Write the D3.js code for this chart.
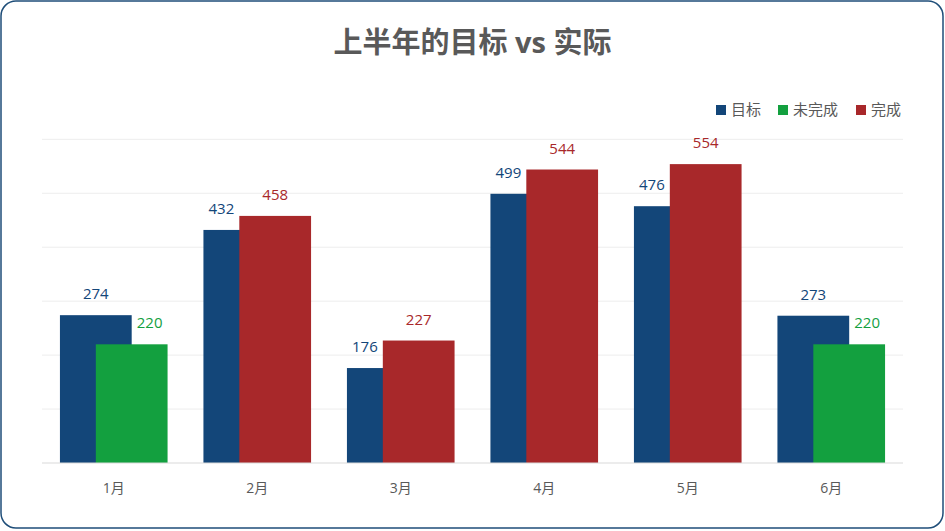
<!DOCTYPE html>
<html lang='zh'>
	<head>
		<meta charset='utf-8'>
		<title>上半年的目标 vs 实际</title>
		<script src="https://d3js.org/d3.v7.min.js"></script>
		<style type="text/css">
			body { margin: 0; background: #fff; }
			text { font-family: "Open Sans", "Noto Sans CJK SC", sans-serif; }
		</style>
	</head>
	<body>
		<script type='text/javascript'>
			//Data
			var months = ['1月', '2月', '3月', '4月', '5月', '6月'];
			var target = [274, 432, 176, 499, 476, 273];
			var notDone = [220, null, null, null, null, 220];
			var done = [null, 458, 227, 544, 554, null];
			var yTicks = [0, 100, 200, 300, 400, 500, 600];
			var legendNames = ['目标', '未完成', '完成'];
			var colors = ['#134679', '#13A03F', '#A8282A'];

			//Width and height
			var w = 945;
			var h = 531;
			var plotL = 42, plotR = 903, plotT = 139.3, plotB = 463;

			var svg = d3.select('body')
						.append('svg')
						.attr('width', w)
						.attr('height', h);

			//Frame
			svg.append('rect')
			   .attr('x', 1).attr('y', 1)
			   .attr('width', w - 3).attr('height', h - 4)
			   .attr('rx', 15).attr('ry', 15)
			   .attr('fill', '#fff')
			   .attr('stroke', '#1F4E79')
			   .attr('stroke-width', 1.5);

			//Title
			svg.append('text')
			   .attr('x', w / 2).attr('y', 53)
			   .attr('text-anchor', 'middle')
			   .attr('font-size', 29)
			   .attr('font-weight', 'bold')
			   .attr('fill', '#595959')
			   .text('上半年的目标 vs 实际');

			//Scales
			var x = d3.scaleBand().domain(months).range([plotL, plotR]);
			var y = d3.scaleLinear().domain([0, 600]).range([plotB, plotT]);
			var bw = x.bandwidth() * 0.5;

			//Gridlines
			svg.selectAll('line.grid')
			   .data(yTicks.slice(1))
			   .enter()
			   .append('line')
			   .attr('x1', plotL).attr('x2', plotR)
			   .attr('y1', function(d) { return y(d); })
			   .attr('y2', function(d) { return y(d); })
			   .attr('stroke', '#EDEDED')
			   .attr('stroke-width', 1);

			//Rows: one per month
			var rows = months.map(function(m, i) {
				var second = notDone[i] != null ? notDone[i] : done[i];
				var c = x(m) + x.bandwidth() / 2;
				return {
					m: m,
					t: target[i],
					s: second,
					col: notDone[i] != null ? colors[1] : colors[2],
					bx: c - x.bandwidth() * 0.375,
					sx: c - x.bandwidth() * 0.125
				};
			});

			//Target bars
			svg.selectAll('rect.t')
			   .data(rows)
			   .enter()
			   .append('rect')
			   .attr('x', function(d) { return d.bx; })
			   .attr('y', function(d) { return y(d.t); })
			   .attr('width', bw)
			   .attr('height', function(d) { return plotB - y(d.t); })
			   .attr('fill', colors[0]);

			//Actual bars
			svg.selectAll('rect.s')
			   .data(rows)
			   .enter()
			   .append('rect')
			   .attr('x', function(d) { return d.sx; })
			   .attr('y', function(d) { return y(d.s); })
			   .attr('width', bw)
			   .attr('height', function(d) { return plotB - y(d.s); })
			   .attr('fill', function(d) { return d.col; });

			//Baseline
			svg.append('line')
			   .attr('x1', plotL).attr('x2', plotR)
			   .attr('y1', plotB).attr('y2', plotB)
			   .attr('stroke', '#D9D9D9')
			   .attr('stroke-width', 1);

			//Value labels (centred on the part of the bar that is not covered)
			svg.selectAll('text.tl')
			   .data(rows)
			   .enter()
			   .append('text')
			   .attr('x', function(d) {
			   	if (d.t < d.s) return (d.bx + d.sx) / 2;
			   	return d.bx + bw / 2;
			   })
			   .attr('y', function(d) { return y(d.t) - 16; })
			   .attr('text-anchor', 'middle')
			   .attr('font-size', 15)
			   .attr('fill', colors[0])
			   .text(function(d) { return d.t; });

			svg.selectAll('text.sl')
			   .data(rows)
			   .enter()
			   .append('text')
			   .attr('x', function(d) {
			   	if (d.s < d.t) return (d.bx + bw + d.sx + bw) / 2;
			   	return d.sx + bw / 2;
			   })
			   .attr('y', function(d) { return y(d.s) - 16; })
			   .attr('text-anchor', 'middle')
			   .attr('font-size', 15)
			   .attr('fill', function(d) { return d.col; })
			   .text(function(d) { return d.s; });

			//X axis labels
			svg.append('g')
			   .attr('transform', 'translate(0,' + plotB + ')')
			   .call(d3.axisBottom(x).tickSize(0).tickPadding(20))
			   .call(function(g) {
			   	g.select('.domain').remove();
			   	g.selectAll('text')
			   	 .attr('font-size', 14)
			   	 .attr('fill', '#595959')
			   	 .style('font-family', '"Open Sans", "Noto Sans CJK SC", sans-serif');
			   });

			//Legend
			var legendX = [716, 778, 856];
			var lg = svg.selectAll('g.legend')
						.data(legendNames)
						.enter()
						.append('g')
						.attr('transform', function(d, i) { return 'translate(' + legendX[i] + ',104)'; });
			lg.append('rect')
			  .attr('width', 10).attr('height', 10)
			  .attr('y', 1)
			  .attr('fill', function(d, i) { return colors[i]; });
			lg.append('text')
			  .attr('x', 15).attr('y', 11)
			  .attr('font-size', 15)
			  .attr('fill', '#595959')
			  .text(function(d) { return d; });
		</script>
	</body>
</html>
